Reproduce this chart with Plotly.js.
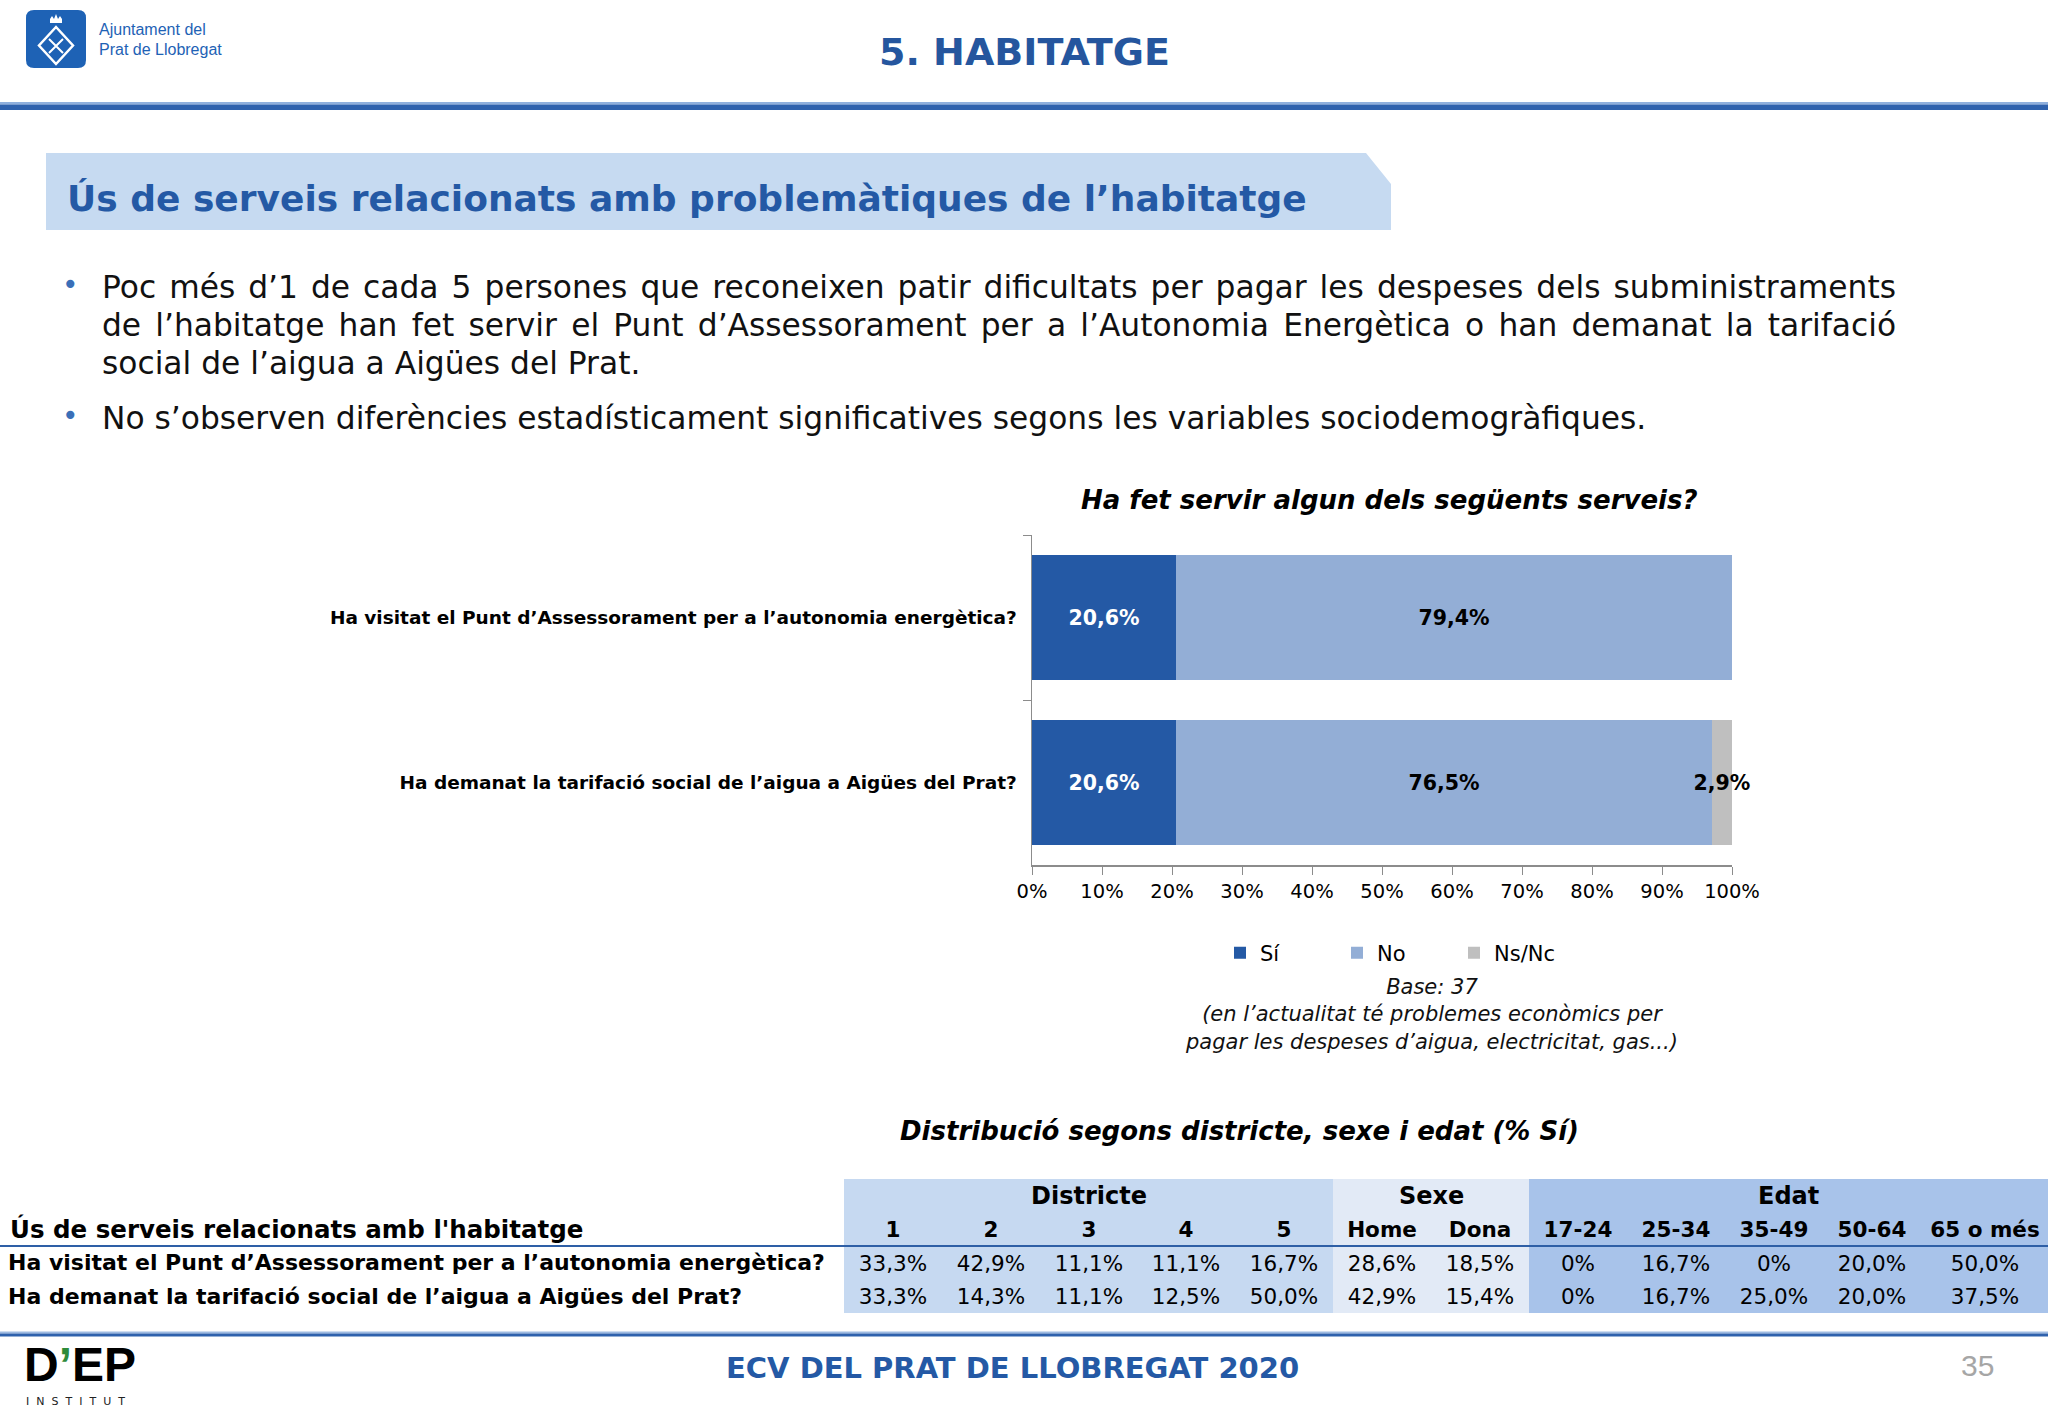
<!DOCTYPE html>
<html><head><meta charset="utf-8">
<script src="https://cdn.plot.ly/plotly-3.0.1.min.js"></script>
<style>html,body{margin:0;padding:0;background:#fff;}#chart{width:2048px;height:1418px;}</style>
</head><body><div id="chart"></div>
<script>
// ---------- DATA ----------
const serveis = ["Ha visitat el Punt d’Assessorament per a l’autonomia energètica?", "Ha demanat la tarifació social de l’aigua a Aigües del Prat?"];
const respostes = ["Sí", "No", "Ns/Nc"];
const si = [20.6, 20.6];
const no = [79.4, 76.5];
const nsnc = [0, 2.9];
const xTicks = [0, 10, 20, 30, 40, 50, 60, 70, 80, 90, 100];

const tableTitle = "Ús de serveis relacionats amb l'habitatge";
const tableRows = ["Ha visitat el Punt d’Assessorament per a l’autonomia energètica?", "Ha demanat la tarifació social de l’aigua a Aigües del Prat?"];
const groupNames = ["Districte", "Sexe", "Edat"];
const districtes = ["1", "2", "3", "4", "5"];
const sexes = ["Home", "Dona"];
const edats = ["17-24", "25-34", "35-49", "50-64", "65 o més"];
const districteSi = [[33.3, 42.9, 11.1, 11.1, 16.7], [33.3, 14.3, 11.1, 12.5, 50.0]];
const sexeSi = [[28.6, 18.5], [42.9, 15.4]];
const edatSi = [[0, 16.7, 0, 20.0, 50.0], [0, 16.7, 25.0, 20.0, 37.5]];

const bulletLines = [
  "Poc més d’1 de cada 5 persones que reconeixen patir dificultats per pagar les despeses dels subministraments",
  "de l’habitatge han fet servir el Punt d’Assessorament per a l’Autonomia Energètica o han demanat la tarifació",
  "social de l’aigua a Aigües del Prat.",
  "No s’observen diferències estadísticament significatives segons les variables sociodemogràfiques."
];

// ---------- LAYOUT CONSTANTS ----------
const W = 2048, H = 1418;
const FONT = "DejaVu Sans, Verdana, sans-serif";
const NARROW = "Liberation Sans Narrow, Arial Narrow, Liberation Sans, sans-serif";
const BLUE = "#2459a5";
const BODY_SIZE = 31.3;
const fmt = v => (v === 0 ? "0" : v.toFixed(1).replace(".", ",")) + "%";

// ---------- BAR TRACES ----------
const barColors = ["#2459a5", "#93aed6", "#bfbfbf"];
const traces = [si, no, nsnc].map((vals, i) => ({
  type: "bar", orientation: "h", name: respostes[i], x: vals, y: serveis,
  marker: {color: barColors[i]},
  text: vals.map(v => v > 0 ? fmt(v) : ""),
  textposition: "inside", insidetextanchor: "middle", textangle: 0, constraintext: "none",
  insidetextfont: {family: FONT, size: 20.5, weight: "bold", color: i === 0 ? "#ffffff" : "#000000"},
  cliponaxis: false, hoverinfo: "x+name"
}));

// overlay (page-pixel) axes carrier
traces.push({type: "scatter", mode: "markers", x: [0], y: [0], xaxis: "x3", yaxis: "y3",
  marker: {opacity: 0}, showlegend: false, hoverinfo: "skip"});

// ---------- TABLE (heatmap cells) ----------
const colWidths = [844, 97.8, 97.8, 97.8, 97.8, 97.8, 98, 98, 98, 98, 98, 98, 127];
const edges = [0];
colWidths.forEach(w => edges.push(edges[edges.length - 1] + w));
const colGroup = [0].concat(districtes.map(() => 1), sexes.map(() => 2), edats.map(() => 3));
const zGrid = [0, 1, 2, 3].map(() => colGroup.slice());
const subHeads = [""].concat(districtes, sexes, edats).map(s => s ? "<b>" + s + "</b>" : "");
const rowVals = r => [""].concat(districteSi[r].map(fmt), sexeSi[r].map(fmt), edatSi[r].map(fmt));
const textGrid = [colGroup.map(() => ""), subHeads, rowVals(0), rowVals(1)];
traces.push({
  type: "heatmap", x: edges, y: [0, 1, 2, 3], z: zGrid, zmin: 0, zmax: 3,
  colorscale: [[0, "#ffffff"], [0.2, "#ffffff"], [0.2, "#c6d9f1"], [0.5, "#c6d9f1"], [0.5, "#e2eaf6"], [0.8, "#e2eaf6"], [0.8, "#a8c3ea"], [1, "#a8c3ea"]],
  showscale: false, text: textGrid, texttemplate: "%{text}",
  textfont: {family: FONT, size: 21.5, color: "#000000"},
  xaxis: "x4", yaxis: "y4", hoverinfo: "skip", showlegend: false
});

// ---------- TEXT HELPERS ----------
function A(x, y, text, o = {}) {
  return {xref: o.xref || "x3", yref: o.yref || "y3", x, y, text, showarrow: false,
    xanchor: o.xa || "center", yanchor: o.ya || "middle",
    font: {family: o.family || FONT, size: o.size || 20, color: o.color || "#000000"}};
}
const cx = document.createElement("canvas").getContext("2d");
cx.font = BODY_SIZE + 'px "DejaVu Sans"';
function justified(line, width) {
  const n = line.split(" ").length - 1;
  const ws = (width - cx.measureText(line).width) / n;
  return '<span style="word-spacing:' + ws.toFixed(2) + 'px">' + line + '</span>';
}

const ann = [];
// header
ann.push(A(97, 29, "Ajuntament del", {xa: "left", size: 16, family: NARROW, color: "#1e62b5"}));
ann.push(A(97, 49, "Prat de Llobregat", {xa: "left", size: 16, family: NARROW, color: "#1e62b5"}));
ann.push(A(1024, 52, "<b>5. HABITATGE</b>", {size: 38, color: "#25569e"}));
ann.push(A(65, 198, "<b>Ús de serveis relacionats amb problemàtiques de l’habitatge</b>", {xa: "left", size: 36, color: BLUE}));
// bullets
const bulletY = [287, 325, 363, 418];
ann.push(A(70, 284, "•", {size: 28, color: "#3a6fb8"}));
ann.push(A(70, 415, "•", {size: 28, color: "#3a6fb8"}));
bulletLines.forEach((ln, i) => {
  const txt = (i < 2) ? justified(ln, 1794) : ln;
  ann.push(A(100, bulletY[i], txt, {xa: "left", size: BODY_SIZE, color: "#111111"}));
});
// chart texts
ann.push(A(1389, 500, "<b><i>Ha fet servir algun dels següents serveis?</i></b>", {size: 26}));
ann.push(A(1431, 1014, "<i>Base: 37<br>(en l’actualitat té problemes econòmics per<br>pagar les despeses d’aigua, electricitat, gas...)</i>", {size: 21, color: "#111111"}));
ann.push(A(1239, 1131, "<b><i>Distribució segons districte, sexe i edat (% Sí)</i></b>", {size: 26}));
// table labels
const grpSpans = [[1, 5], [6, 7], [8, 12]];
groupNames.forEach((g, i) => {
  const xc = (edges[grpSpans[i][0]] + edges[grpSpans[i][1] + 1]) / 2;
  ann.push(A(xc, 0, "<b>" + g + "</b>", {xref: "x4", yref: "y4", size: 24}));
});
ann.push(A(8, 1, "<b>" + tableTitle + "</b>", {xref: "x4", yref: "y4", xa: "left", size: 24.5}));
tableRows.forEach((r, i) => ann.push(A(6, 2 + i, "<b>" + r + "</b>", {xref: "x4", yref: "y4", xa: "left", size: 22})));
// footer
ann.push(A(1012, 1368, "<b>ECV DEL PRAT DE LLOBREGAT 2020</b>", {size: 29, color: BLUE}));
ann.push(A(1977, 1365, "35", {size: 30, color: "#a6a6a6", family: NARROW}));
ann.push(A(22, 1393, '<b>D<span style="fill:#2e8b3a">’</span>EP</b>', {xa: "left", ya: "bottom", size: 48, family: NARROW}));
ann.push(A(24, 1393, '<span style="letter-spacing:7px">INSTITUT</span>', {xa: "left", ya: "top", size: 11, color: "#222222"}));

// ---------- SHAPES ----------
const S = (path, fill, line) => ({type: "path", xref: "x3", yref: "y3", path, fillcolor: fill || "rgba(0,0,0,0)", line: line || {width: 0}});
const R = (x0, y0, x1, y1, fill) => ({type: "rect", xref: "x3", yref: "y3", x0, y0, x1, y1, fillcolor: fill, line: {width: 0}});
const shapes = [
  S("M 34 10 H 78 Q 86 10 86 18 V 60 Q 86 68 78 68 H 34 Q 26 68 26 60 V 18 Q 26 10 34 10 Z", "#1e62b5"),
  S("M 50 23 L 62 23 L 62 19 L 60 16 L 58 19 L 56 14 L 54 19 L 52 16 L 50 19 Z", "#ffffff"),
  S("M 56 27 L 73 45.5 L 56 64 L 39 45.5 Z", null, {color: "#ffffff", width: 2.5}),
  S("M 49 39 L 63 53 M 63 39 L 49 53", null, {color: "#ffffff", width: 2}),
  R(0, 102, W, 104.5, "#8fb0dd"),
  R(0, 104.5, W, 110, "#2f62ad"),
  S("M 46 153 L 1366 153 L 1391 184 L 1391 230 L 46 230 Z", "#c6daf1"),
  R(0, 1331.5, W, 1333.5, "#9fbbe2"),
  R(0, 1333.5, W, 1336.5, "#2f62ad"),
  {type: "line", xref: "x4", yref: "y4", x0: 0, x1: W, y0: 1.5, y1: 1.5, line: {color: "#2e5fa6", width: 2}}
];

// ---------- LAYOUT ----------
const axisGray = "#8c8c8c";
const layout = {
  width: W, height: H, margin: {l: 0, r: 0, t: 0, b: 0},
  paper_bgcolor: "#ffffff", plot_bgcolor: "rgba(0,0,0,0)",
  font: {family: FONT, color: "#000000"},
  barmode: "stack", bargap: 0.24, showlegend: true,
  xaxis: {domain: [1032 / W, 1732 / W], anchor: "y", range: [0, 100], tickmode: "array",
    tickvals: xTicks, ticktext: xTicks.map(v => v + "%"), showgrid: false, zeroline: false,
    showline: true, linecolor: axisGray, linewidth: 1.5, ticks: "outside", ticklen: 8, tickcolor: axisGray,
    tickfont: {family: FONT, size: 19.5, color: "#000"}, fixedrange: true},
  yaxis: {domain: [1 - 865 / H, 1 - 535 / H], anchor: "x", type: "category", autorange: "reversed",
    showgrid: false, zeroline: false, showline: true, linecolor: axisGray, linewidth: 1.5,
    ticks: "outside", tickson: "boundaries", ticklen: 8, tickcolor: axisGray, ticklabelstandoff: 10,
    tickfont: {family: FONT, size: 18.5, weight: "bold", color: "#000"}, fixedrange: true},
  xaxis3: {domain: [0, 1], range: [0, W], anchor: "y3", visible: false, fixedrange: true},
  yaxis3: {domain: [0, 1], range: [H, 0], anchor: "x3", visible: false, fixedrange: true},
  xaxis4: {domain: [0, 1], range: [0, W], anchor: "y4", visible: false, fixedrange: true},
  yaxis4: {domain: [1 - 1313 / H, 1 - 1179 / H], range: [3.5, -0.5], anchor: "x4", visible: false, fixedrange: true},
  legend: {orientation: "h", x: 1220 / W, xanchor: "left", y: 1 - 953 / H, yanchor: "middle",
    font: {family: FONT, size: 21, color: "#000"}, entrywidth: 72, itemwidth: 30, traceorder: "normal",
    bgcolor: "rgba(0,0,0,0)"},
  annotations: ann,
  shapes: shapes
};

Plotly.newPlot("chart", traces, layout, {displayModeBar: false, staticPlot: true});
</script>
</body></html>
